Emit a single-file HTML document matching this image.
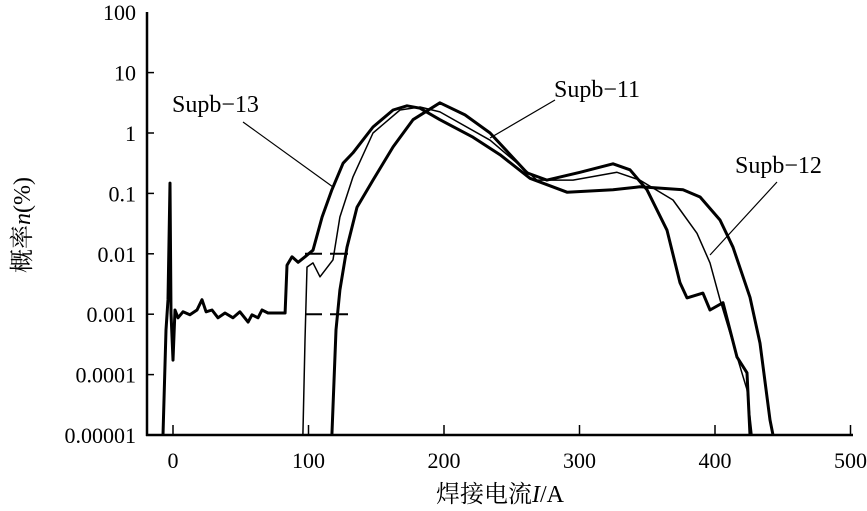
<!DOCTYPE html>
<html><head><meta charset="utf-8"><style>
html,body{margin:0;padding:0;background:#fff;}
svg{display:block;}
text{font-family:"Liberation Serif","Noto Serif CJK SC",serif;fill:#000;}
</style></head><body>
<svg id="chart" width="867" height="511" viewBox="0 0 867 511" xmlns="http://www.w3.org/2000/svg"></svg>
<script>
const xTicks = [0, 100, 200, 300, 400, 500];
const yTickExp = [-5, -4, -3, -2, -1, 0, 1, 2];
const yTickLabels = ["0.00001", "0.0001", "0.001", "0.01", "0.1", "1", "10", "100"];
const s13Current = [-7.4,-5.2,-3.7,-2.2,-1.5,0,1.5,3.7,7.4,12.5,17.7,21.4,24.4,28.8,33.2,38.4,44.3,49.4,55.4,58.3,62.7,65.7,70.1,82.7,84.1,87.8,92.3,97.4,103.3,110,117.3,125.5,132.8,147.6,162.4,172.7,182.3,197,221.4,241.3,263.5,290.8,324.7,344.6,376.4,389,403.7,413.3,425.8,433.2,440.6,442.8];
const s13LogProb = [-5,-3.26,-2.76,-0.83,-2.98,-3.76,-2.93,-3.06,-2.96,-3.01,-2.93,-2.76,-2.96,-2.93,-3.06,-2.98,-3.06,-2.96,-3.13,-3.01,-3.06,-2.93,-2.98,-2.98,-2.19,-2.05,-2.14,-2.05,-1.94,-1.39,-0.94,-0.50,-0.33,0.10,0.38,0.45,0.41,0.22,-0.07,-0.36,-0.75,-0.98,-0.94,-0.89,-0.94,-1.06,-1.44,-1.89,-2.72,-3.48,-4.75,-5];
const s11Current = [117.3,120.3,123.2,128.4,135.8,147.6,162.4,177.1,197,215.5,234,261.3,276,300.4,324.7,337.3,349.8,364.6,374.2,379.3,391.1,396.3,405.9,416.2,423.6,425.8];
const s11LogProb = [-5,-3.26,-2.60,-1.89,-1.23,-0.78,-0.23,0.22,0.50,0.30,0.0,-0.66,-0.78,-0.65,-0.51,-0.61,-0.94,-1.61,-2.48,-2.73,-2.65,-2.93,-2.81,-3.71,-3.97,-5];
const s12Current = [95.9,97.4,98.9,103.3,108.5,118.1,123.2,132.8,147.6,167.5,182.3,197,234,268.6,295.2,327.7,344.6,369,386.7,396.3,403.7,413.3,423.6,427.3];
const s12LogProb = [-5,-3.43,-2.22,-2.15,-2.38,-2.10,-1.39,-0.73,0.0,0.38,0.43,0.35,-0.12,-0.78,-0.78,-0.65,-0.78,-1.11,-1.66,-2.15,-2.76,-3.48,-4.25,-5];

const NS = "http://www.w3.org/2000/svg";
const svg = document.getElementById("chart");
const X0 = 173, XS = 1.355, YB = 435, YS = 60.4;
function xScale(a){ return X0 + XS * a; }
function yScale(e){ return YB - YS * (e + 5); }
function mk(tag, attrs, parent){
  const el = document.createElementNS(NS, tag);
  for (const k in attrs) el.setAttribute(k, attrs[k]);
  (parent || svg).appendChild(el);
  return el;
}
// axes
const axY = mk("line",{x1:147,y1:12,x2:147,y2:436,stroke:"#000","stroke-width":2.5});


const axX = mk("line",{x1:146,y1:435,x2:853,y2:435,stroke:"#000","stroke-width":2.5});


yTickExp.forEach((e,i)=>{
  const y = yScale(e);
  if (i>0 && i<yTickExp.length-1){
    const t = mk("line",{x1:147,y1:y,x2:154,y2:y,stroke:"#000","stroke-width":1.5});
    
    
  }
  const lb = mk("text",{x:136,y:y+8,"text-anchor":"end","font-size":22});
  lb.textContent = yTickLabels[i];
  
  
});
xTicks.forEach(v=>{
  const x = xScale(v);
  const t = mk("line",{x1:x,y1:435,x2:x,y2:425,stroke:"#000","stroke-width":1.5});
  
  
  const lb = mk("text",{x:x,y:468,"text-anchor":"middle","font-size":22});
  lb.textContent = String(v);
  
  
});
function series(xs, ys, w, name){
  const d = xs.map((a,i)=>(i?"L":"M")+xScale(a).toFixed(1)+" "+yScale(ys[i]).toFixed(1)).join(" ");
  const p = mk("path",{d:d,fill:"none",stroke:"#000","stroke-width":w,"stroke-linejoin":"round"});
  
  
}
series(s13Current, s13LogProb, 3, 'series-supb-13');
series(s11Current, s11LogProb, 3, 'series-supb-11');
series(s12Current, s12LogProb, 1.5, 'series-supb-12');
// small cross marks
[[-2],[-3]].forEach(r=>{
  const y = yScale(r[0]);
  const c = mk("line",{x1:305,y1:y,x2:322,y2:y,stroke:"#000","stroke-width":2});
  
  
  const c2 = mk("line",{x1:330,y1:y,x2:348,y2:y,stroke:"#000","stroke-width":2});
  
  
});
// labels and leaders
function label(txt,x,y,lx1,ly1,lx2,ly2,name){
  const t = mk("text",{x:x,y:y,"font-size":24});
  t.textContent = txt;
  
  
  const l = mk("line",{x1:lx1,y1:ly1,x2:lx2,y2:ly2,stroke:"#000","stroke-width":1.2});
  
  
}
label("Supb\u221213",172,112,243,122,333,187,'supb-13');
label("Supb\u221211",554,97,555,100,490,138,'supb-11');
label("Supb\u221212",735,173,777,182,710,255,'supb-12');
// axis titles
const xt = mk("text",{x:500,y:502,"text-anchor":"middle","font-size":24});
xt.innerHTML = '焊接电流<tspan font-style="italic">I</tspan>/A';


const yt = mk("text",{x:0,y:0,"text-anchor":"middle","font-size":24,transform:"translate(30,225) rotate(-90)"});
yt.innerHTML = '概率<tspan font-style="italic">n</tspan>(%)';


</script>
</body></html>
